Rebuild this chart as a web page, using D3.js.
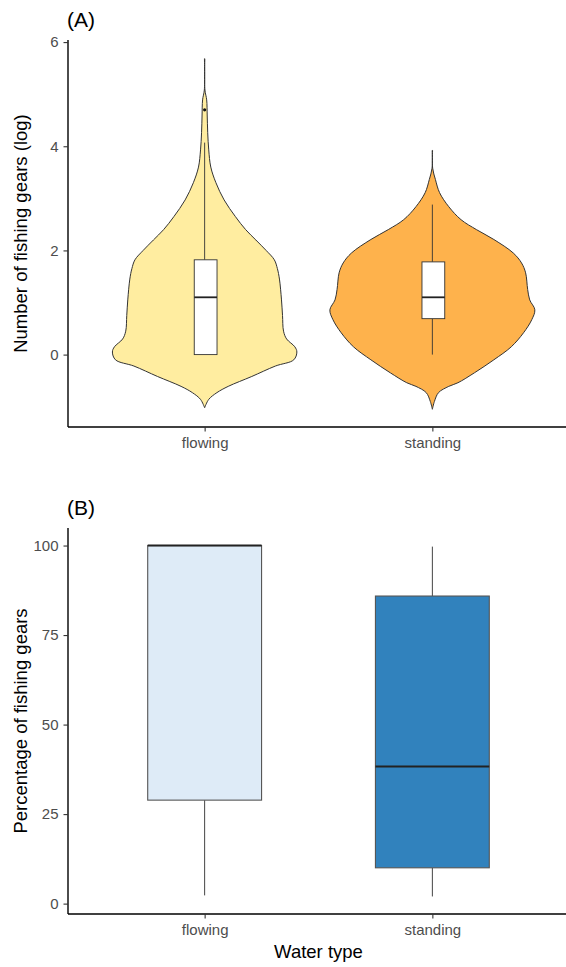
<!DOCTYPE html>
<html><head><meta charset="utf-8">
<script src="https://cdn.jsdelivr.net/npm/d3@7"></script>
<style>body{margin:0;background:#fff}svg{display:block}text{font-family:"Liberation Sans",Arial,sans-serif}</style>
</head><body><svg id="c" width="566" height="967"></svg>
<script>
const categories = ["flowing", "standing"];
const ticksA = [0, 2, 4, 6];
const ticksB = [0, 25, 50, 75, 100];
// Panel A: violin densities (value on log scale, relative density width)
const violinFlowingV = [-1.02,-0.86,-0.73,-0.61,-0.42,-0.22,-0.10,0.05,0.15,0.30,0.45,0.75,1.05,1.45,1.65,1.82,2.00,2.20,2.40,2.65,2.97,3.30,3.60,3.93,4.26,4.60,4.89,5.08,5.68];
const violinFlowingD = [0,0.04,0.12,0.23,0.46,0.69,0.87,0.90,0.88,0.80,0.77,0.76,0.75,0.73,0.71,0.68,0.60,0.50,0.40,0.30,0.19,0.11,0.06,0.04,0.03,0.025,0.02,0.003,0.002];
const violinStandingV = [-1.05,-0.90,-0.73,-0.61,-0.54,-0.35,-0.10,0.15,0.42,0.67,0.86,1.05,1.25,1.57,1.76,1.95,2.21,2.40,2.59,2.84,3.11,3.36,3.58,3.92];
const violinStandingD = [0,0.02,0.06,0.16,0.25,0.41,0.60,0.77,0.89,0.97,1.00,0.95,0.93,0.91,0.87,0.79,0.60,0.43,0.28,0.16,0.07,0.03,0.003,0.002];
// Panel A: boxplot stats [lowerWhisker, Q1, median, Q3, upperWhisker]
const boxA = [[0.0, 0.0, 1.10, 1.82, 4.07], [0.0, 0.69, 1.10, 1.78, 2.88]];
const outliersA = [[4.70], []];
// Panel B: boxplot stats
const boxB = [[2.3, 28.9, 100, 100, 100], [2.0, 10.0, 38.3, 85.9, 99.7]];
const violinColors = ["#FFEDA0", "#FEB24C"];
const boxColors = ["#DEEBF7", "#3182BD"];

const svg = d3.select("#c");
const font = '"Liberation Sans",Arial,sans-serif';

function axes(g, x, y, ticks, yTitle, tag, top, bottom) {
  const ya = g.append("g").attr("transform", "translate(68,0)")
    .call(d3.axisLeft(y).tickValues(ticks).tickSize(4.5).tickSizeOuter(0).tickPadding(5));
  ya.select(".domain").attr("stroke", "#000").attr("stroke-width", 1.4).attr("d", `M0,${top}V${bottom}`);
  ya.selectAll(".tick line").attr("stroke", "#333").attr("stroke-width", 1.1);
  ya.selectAll(".tick text").attr("fill", "#4D4D4D").style("font-size", "15px").style("font-family", font);
  const xa = g.append("g").attr("transform", `translate(0,${bottom})`)
    .call(d3.axisBottom(x).tickSize(4.5).tickSizeOuter(0).tickPadding(6));
  xa.select(".domain").attr("stroke", "#000").attr("stroke-width", 1.4).attr("d", "M68,0H566");
  xa.selectAll(".tick line").attr("stroke", "#333").attr("stroke-width", 1.1);
  xa.selectAll(".tick text").attr("fill", "#4D4D4D").style("font-size", "15px").style("font-family", font);
  g.append("text").attr("transform", `translate(27,${(top + bottom) / 2}) rotate(-90)`)
    .attr("text-anchor", "middle").style("font-size", "18.5px").attr("fill", "#000").text(yTitle);
  g.append("text").attr("x", 67).attr("y", top - 13).style("font-size", "21px").attr("fill", "#000").text(tag);
}

// ---------- Panel A ----------
const topA = 40, botA = 427;
const xA = d3.scalePoint().domain(categories).range([68, 569]).padding(0.6);
const yA = d3.scaleLinear().domain([-1.39, 6.04]).range([botA, topA]);
const step = xA.step();
const wScale = d3.scaleLinear().domain([0, 1]).range([0, step * 0.45]);
const gA = svg.append("g");

const violins = [
  d3.zip(violinFlowingV, violinFlowingD),
  d3.zip(violinStandingV, violinStandingD)
];
violins.forEach((pts, i) => {
  const cx = xA(categories[i]);
  const a = d3.area().curve(d3.curveCatmullRom.alpha(0.5))
    .y(d => yA(d[0])).x0(d => cx - wScale(d[1])).x1(d => cx + wScale(d[1]));
  gA.append("path").attr("d", a(pts)).attr("fill", violinColors[i])
    .attr("stroke", "#333").attr("stroke-width", 1);
});
const bwA = step * 0.1;
boxA.forEach((b, i) => {
  const cx = xA(categories[i]);
  const g = gA.append("g");
  g.append("line").attr("x1", cx).attr("x2", cx).attr("y1", yA(b[3])).attr("y2", yA(b[4])).attr("stroke", "#333").attr("stroke-width", 0.9);
  g.append("line").attr("x1", cx).attr("x2", cx).attr("y1", yA(b[1])).attr("y2", yA(b[0])).attr("stroke", "#333").attr("stroke-width", 0.9);
  g.append("rect").attr("x", cx - bwA / 2 + 1).attr("width", bwA).attr("y", yA(b[3])).attr("height", yA(b[1]) - yA(b[3]))
    .attr("fill", "#fff").attr("stroke", "#333").attr("stroke-width", 0.9);
  g.append("line").attr("x1", cx - bwA / 2 + 1).attr("x2", cx + bwA / 2 + 1).attr("y1", yA(b[2])).attr("y2", yA(b[2])).attr("stroke", "#222").attr("stroke-width", 1.8);
  outliersA[i].forEach(o => g.append("circle").attr("cx", cx).attr("cy", yA(o)).attr("r", 1.6).attr("fill", "#111"));
});
axes(gA, xA, yA, ticksA, "Number of fishing gears (log)", "(A)", topA, botA);

// ---------- Panel B ----------
const topB = 528, botB = 914;
const xB = d3.scalePoint().domain(categories).range([68, 569]).padding(0.6);
const yB = d3.scaleLinear().domain([-2.9, 104.9]).range([botB, topB]);
const gB = svg.append("g");
const bwB = xB.step() * 0.5;
boxB.forEach((b, i) => {
  const cx = xB(categories[i]);
  const g = gB.append("g");
  if (b[4] > b[3]) g.append("line").attr("x1", cx).attr("x2", cx).attr("y1", yB(b[3])).attr("y2", yB(b[4])).attr("stroke", "#444").attr("stroke-width", 1);
  g.append("line").attr("x1", cx).attr("x2", cx).attr("y1", yB(b[1])).attr("y2", yB(b[0])).attr("stroke", "#444").attr("stroke-width", 1);
  g.append("rect").attr("x", cx - bwB / 2).attr("width", bwB).attr("y", yB(b[3])).attr("height", yB(b[1]) - yB(b[3]))
    .attr("fill", boxColors[i]).attr("stroke", "#555").attr("stroke-width", 1.1);
  g.append("line").attr("x1", cx - bwB / 2).attr("x2", cx + bwB / 2).attr("y1", yB(b[2])).attr("y2", yB(b[2])).attr("stroke", "#222").attr("stroke-width", 2);
});
axes(gB, xB, yB, ticksB, "Percentage of fishing gears", "(B)", topB, botB);
gB.append("text").attr("x", (68 + 569) / 2).attr("y", 958).attr("text-anchor", "middle")
  .style("font-size", "18.5px").attr("fill", "#000").text("Water type");
</script></body></html>
